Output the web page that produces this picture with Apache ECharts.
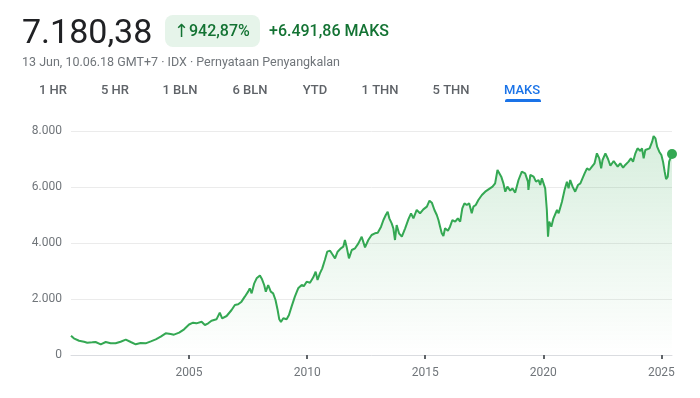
<!DOCTYPE html>
<html>
<head>
<meta charset="utf-8">
<script src="https://cdn.jsdelivr.net/npm/echarts@6/dist/echarts.min.js"></script>
<style>
  html, body { margin: 0; padding: 0; background: #fff; }
  #grafica { width: 700px; height: 398px; }
</style>
</head>
<body>
<div id="grafica"></div>
<script>
// IDX composite, harga penutupan (tahun desimal)
const years = [
  2000.00, 2000.12, 2000.34, 2000.55, 2000.69, 2000.90, 2001.04, 2001.26, 2001.47, 2001.68,
  2001.89, 2002.10, 2002.32, 2002.53, 2002.74, 2002.95, 2003.16, 2003.38, 2003.59, 2003.80,
  2004.01, 2004.22, 2004.36, 2004.58, 2004.79, 2005.00, 2005.17, 2005.31, 2005.53, 2005.67,
  2005.81, 2005.95, 2006.16, 2006.30, 2006.40, 2006.59, 2006.80, 2006.94, 2007.08, 2007.22,
  2007.36, 2007.50, 2007.57, 2007.65, 2007.76, 2007.86, 2008.00, 2008.09, 2008.18, 2008.25,
  2008.35, 2008.46, 2008.56, 2008.66, 2008.75, 2008.82, 2008.89, 2008.99, 2009.13, 2009.23,
  2009.34, 2009.48, 2009.62, 2009.77, 2009.86, 2009.98, 2010.12, 2010.26, 2010.36, 2010.44,
  2010.54, 2010.64, 2010.75, 2010.85, 2010.97, 2011.06, 2011.18, 2011.29, 2011.43, 2011.53,
  2011.60, 2011.67, 2011.77, 2011.89, 2012.03, 2012.17, 2012.31, 2012.45, 2012.59, 2012.73,
  2012.87, 2012.99, 2013.13, 2013.23, 2013.33, 2013.41, 2013.48, 2013.58, 2013.65, 2013.72,
  2013.79, 2013.89, 2014.01, 2014.15, 2014.29, 2014.40, 2014.50, 2014.64, 2014.78, 2014.92,
  2015.07, 2015.18, 2015.28, 2015.39, 2015.49, 2015.56, 2015.63, 2015.70, 2015.77, 2015.84,
  2015.96, 2016.05, 2016.15, 2016.27, 2016.38, 2016.48, 2016.57, 2016.66, 2016.76, 2016.86,
  2016.97, 2017.04, 2017.14, 2017.25, 2017.40, 2017.54, 2017.68, 2017.85, 2017.96, 2018.06,
  2018.13, 2018.22, 2018.31, 2018.39, 2018.48, 2018.60, 2018.69, 2018.81, 2018.95, 2019.09,
  2019.23, 2019.35, 2019.37, 2019.45, 2019.59, 2019.69, 2019.80, 2019.87, 2019.94, 2020.01,
  2020.08, 2020.15, 2020.20, 2020.25, 2020.34, 2020.43, 2020.58, 2020.65, 2020.79, 2020.90,
  2021.00, 2021.07, 2021.14, 2021.24, 2021.35, 2021.47, 2021.57, 2021.64, 2021.75, 2021.85,
  2021.95, 2022.06, 2022.17, 2022.27, 2022.37, 2022.45, 2022.51, 2022.63, 2022.74, 2022.84,
  2022.98, 2023.05, 2023.15, 2023.26, 2023.38, 2023.47, 2023.61, 2023.71, 2023.80, 2023.90,
  2023.99, 2024.11, 2024.18, 2024.25, 2024.32, 2024.39, 2024.50, 2024.61, 2024.67, 2024.75,
  2024.82, 2024.91, 2025.00, 2025.07, 2025.14, 2025.20, 2025.27, 2025.33, 2025.45
];
const closes = [
  690, 595, 510, 475, 440, 452, 464, 381, 464, 417,
  417, 475, 548, 464, 381, 428, 417, 489, 560, 655,
  774, 750, 726, 798, 917, 1090, 1155, 1131, 1190, 1071,
  1131, 1226, 1274, 1512, 1310, 1393, 1607, 1786, 1810, 1905,
  2083, 2262, 2381, 2202, 2560, 2738, 2840, 2702, 2500, 2262,
  2500, 2262, 2202, 1964, 1607, 1274, 1180, 1310, 1274, 1429,
  1726, 2083, 2381, 2500, 2460, 2619, 2583, 2774, 2976, 2679,
  2917, 3095, 3393, 3690, 3726, 3607, 3452, 3690, 3810, 3869,
  4107, 3869, 3452, 3750, 3810, 3988, 4226, 3845, 4107, 4286,
  4345, 4369, 4583, 4821, 5000, 5119, 4881, 4702, 4524, 4107,
  4643, 4345, 4226, 4524, 4850, 5060, 4881, 5179, 5060, 5202,
  5298, 5512, 5440, 5179, 5000, 4821, 4583, 4345, 4250, 4524,
  4440, 4583, 4821, 4762, 4881, 4762, 5238, 5417, 5357, 5417,
  5060, 5298, 5357, 5536, 5714, 5833, 5917, 6012, 6131, 6607,
  6667, 6369, 6131, 5833, 6012, 5869, 5952, 5800, 6250, 6548,
  6488, 6190, 5893, 6429, 6369, 6190, 6250, 6071, 6310, 6250,
  5952, 5179, 4226, 4762, 4583, 4881, 5179, 5060, 5476, 5893,
  6190, 5952, 6250, 6012, 5833, 6071, 6131, 6131, 6488, 6667,
  6607, 6726, 6845, 7202, 7024, 6667, 6964, 7202, 7000, 6760,
  6930, 6845, 6726, 6845, 6690, 6786, 6905, 7024, 6905, 7202,
  7381, 7286, 7381, 7024, 7321, 7262, 7381, 7619, 7821, 7738,
  7440, 7262, 7143, 6905, 6548, 6280, 6369, 6905, 7180.38
];
const xTicks = [2005, 2010, 2015, 2020, 2025];
const yTicks = [0, 2000, 4000, 6000, 8000];
const tabs = ['1 HR', '5 HR', '1 BLN', '6 BLN', 'YTD', '1 THN', '5 THN', 'MAKS'];
const harga = '7.180,38';
const persen = '942,87%';
const selisih = '+6.491,86 MAKS';
const keterangan = '13 Jun, 10.06.18 GMT+7 · IDX · Pernyataan Penyangkalan';

const HIJAU = '#34a853';
const FONT = 'Roboto, "Noto Sans", sans-serif';

function titik(v) {
  return String(v).replace(/\B(?=(\d{3})+(?!\d))/g, '.');
}

const serie = years.map((t, i) => [t, closes[i]]);
const akhir = serie[serie.length - 1];

// posisi tengah tab (px)
const tabPos = [53, 115, 180, 250, 315, 380, 451, 522];
const tabGraphic = tabs.map((t, i) => ({
  type: 'text',
  x: tabPos[i],
  y: 91,
  style: {
    text: t,
    font: '500 13px ' + FONT,
    fill: t === 'MAKS' ? '#1a73e8' : '#5f6368',
    textAlign: 'center',
    textVerticalAlign: 'middle'
  }
}));

var dom = document.getElementById('grafica');
var myChart = echarts.init(dom, null, { renderer: 'canvas' });

var option = {
  animation: false,
  grid: { left: 71, right: 28, top: 131, bottom: 43 },
  graphic: [
    {
      type: 'text', x: 22, y: 34,
      style: { text: harga, font: '400 34px ' + FONT, fill: '#202124', textVerticalAlign: 'middle' }
    },
    {
      type: 'rect', shape: { x: 165, y: 15, width: 95, height: 32, r: 8 },
      style: { fill: '#e6f4ea' }
    },
    {
      type: 'text', x: 174, y: 32,
      style: { text: '↑', font: '400 18px "DejaVu Sans", ' + FONT, fill: '#137333', textVerticalAlign: 'middle' }
    },
    {
      type: 'text', x: 189, y: 32,
      style: { text: persen, font: '500 16px ' + FONT, fill: '#137333', textVerticalAlign: 'middle' }
    },
    {
      type: 'text', x: 269, y: 32,
      style: { text: selisih, font: '500 16px ' + FONT, fill: '#137333', textVerticalAlign: 'middle' }
    },
    {
      type: 'text', x: 22, y: 63,
      style: { text: keterangan, font: '400 12.5px ' + FONT, fill: '#70757a', textVerticalAlign: 'middle' }
    },
    ...tabGraphic,
    {
      type: 'rect', shape: { x: 505, y: 99, width: 36, height: 3, r: [2, 2, 0, 0] },
      style: { fill: '#1a73e8' }
    }
  ],
  xAxis: {
    type: 'value',
    min: 2000,
    max: 2025.45,
    axisLine: { lineStyle: { color: '#dadce0', width: 1 } },
    axisTick: { show: true, customValues: xTicks, length: 4, lineStyle: { color: '#5f6368', width: 2 } },
    axisLabel: {
      customValues: xTicks,
      formatter: v => String(v),
      color: '#70757a',
      fontFamily: FONT,
      fontSize: 12,
      margin: 12
    },
    splitLine: { show: false }
  },
  yAxis: {
    type: 'value',
    min: yTicks[0],
    max: yTicks[yTicks.length - 1],
    interval: 2000,
    axisLine: { show: false },
    axisTick: { show: false },
    axisLabel: {
      formatter: v => titik(v),
      color: '#70757a',
      fontFamily: FONT,
      fontSize: 12,
      margin: 9
    },
    splitLine: { lineStyle: { color: '#ebebeb', width: 1 } }
  },
  series: [
    {
      type: 'line',
      data: serie,
      showSymbol: false,
      symbol: 'none',
      lineStyle: { color: HIJAU, width: 2 },
      areaStyle: {
        color: new echarts.graphic.LinearGradient(0, 0, 0, 1, [
          { offset: 0, color: 'rgba(52,168,83,0.28)' },
          { offset: 1, color: 'rgba(52,168,83,0)' }
        ])
      },
      z: 2
    },
    {
      type: 'scatter',
      data: [akhir],
      symbolSize: 10,
      itemStyle: { color: HIJAU, opacity: 1 },
      z: 3
    }
  ]
};

if (option && typeof option === 'object') {
  myChart.setOption(option);
}

window.addEventListener('resize', myChart.resize);
</script>
</body>
</html>
